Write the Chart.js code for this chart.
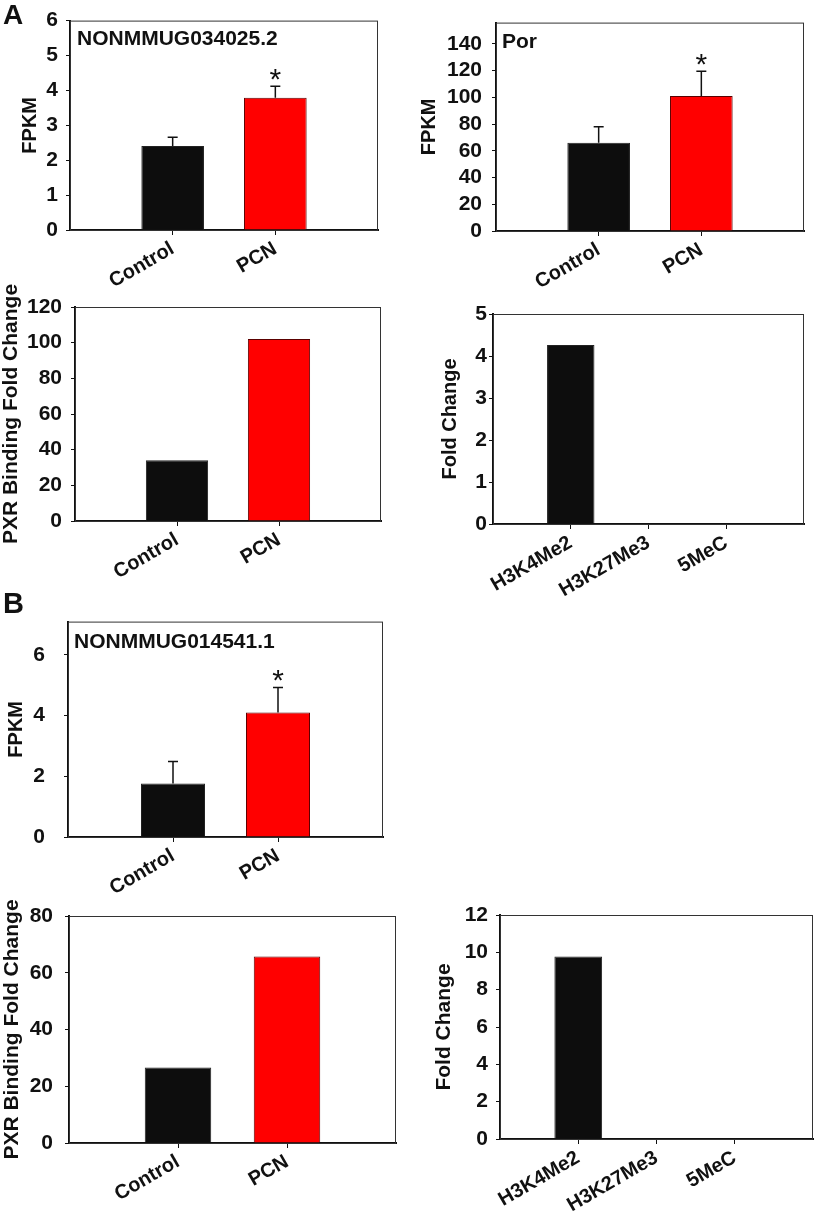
<!DOCTYPE html>
<html>
<head>
<meta charset="utf-8">
<title>PXR binding panels</title>
<script src="https://cdn.jsdelivr.net/npm/chart.js@4.4.1/dist/chart.umd.min.js"></script>
<style>
  body { margin: 0; background: #fff; }
  #fig { position: relative; width: 827px; height: 1214px; overflow: hidden; }
  #fig canvas { position: absolute; }
  .letter { position: absolute; line-height: 1; font-weight: bold; font-family: "Liberation Sans", Arial, sans-serif; color: #111; }
</style>
</head>
<body>
<div id="fig">
  <canvas id="c1" width="400" height="290" style="left:0px; top:0px"></canvas>
  <canvas id="c2" width="427" height="290" style="left:400px; top:0px"></canvas>
  <canvas id="c3" width="400" height="330" style="left:0px; top:260px"></canvas>
  <canvas id="c4" width="427" height="310" style="left:400px; top:290px"></canvas>
  <canvas id="c5" width="400" height="310" style="left:0px; top:590px"></canvas>
  <canvas id="c6" width="410" height="334" style="left:0px; top:880px"></canvas>
  <canvas id="c7" width="417" height="334" style="left:410px; top:880px"></canvas>
  <div class="letter" style="left:3px; top:1px; font-size:28px">A</div>
  <div class="letter" style="left:3px; top:589px; font-size:29px">B</div>
</div>
<script>
// values
const groups = ['Control', 'PCN'];
const marks = ['H3K4Me2', 'H3K27Me3', '5MeC'];
const starred = [false, true];

const fpkmA = [2.41, 3.79];
const fpkmAErr = [0.25, 0.33];
const porFpkm = [66, 101];
const porErr = [12, 18.5];
const pxrA = [34, 102];
const foldA = [4.26, 0, 0];

const fpkmB = [1.76, 4.10];
const fpkmBErr = [0.73, 0.83];
const pxrB = [26.6, 65.7];
const foldB = [9.78, 0, 0];

const groupColors = ['#0d0d0d', '#ff0000'];
const groupBorders = ['#222', '#5a0000'];
const markColors = ['#0d0d0d', '#0d0d0d', '#0d0d0d'];
const markBorders = ['#222', '#222', '#222'];

// y tick labels
const ticksFpkmA = [0, 1, 2, 3, 4, 5, 6];
const ticksPor = [0, 20, 40, 60, 80, 100, 120, 140];
const ticksPxrA = [0, 20, 40, 60, 80, 100, 120];
const ticksFoldA = [0, 1, 2, 3, 4, 5];
const ticksFpkmB = [0, 2, 4, 6];
const ticksPxrB = [0, 20, 40, 60, 80];
const ticksFoldB = [0, 2, 4, 6, 8, 10, 12];

const FONT = '"Liberation Sans", Arial, Helvetica, sans-serif';
const ink = '#111';
Chart.defaults.font.family = FONT;
Chart.defaults.font.weight = 'bold';
Chart.defaults.color = ink;
Chart.defaults.animation = false;

// empty slots at both ends so the bars sit where SigmaPlot put them
const pad = arr => [null, ...arr, null];

// box round the plot, error bars, asterisks and the gene name
const extras = {
    id: 'extras',
    afterDatasetsDraw(chart, args, opts) {
        const {ctx, chartArea: a} = chart;
        const ds = chart.data.datasets[0];
        const meta = chart.getDatasetMeta(0);
        const y = chart.scales.y;
        ctx.save();
        ctx.strokeStyle = '#333';
        ctx.lineWidth = 1;
        ctx.strokeRect(a.left + 0.5, a.top + 0.5, a.width - 1, a.height);

        if (ds.errors) {
            ds.data.forEach((v, i) => {
                if (v == null || ds.errors[i] == null) return;
                const x = meta.data[i].x;
                const y0 = y.getPixelForValue(v);
                const y1 = y.getPixelForValue(v + ds.errors[i]);
                ctx.strokeStyle = ink;
                ctx.lineWidth = 1.5;
                ctx.beginPath();
                ctx.moveTo(x, y0);
                ctx.lineTo(x, y1);
                ctx.moveTo(x - 5, y1);
                ctx.lineTo(x + 5, y1);
                ctx.stroke();
                if (ds.stars && ds.stars[i]) {
                    ctx.font = '30px ' + FONT;
                    ctx.fillStyle = ink;
                    ctx.textAlign = 'center';
                    ctx.textBaseline = 'alphabetic';
                    ctx.fillText('*', x, y1 + 3);
                }
            });
        }

        if (opts.text) {
            ctx.font = 'bold 21px ' + FONT;
            ctx.fillStyle = ink;
            ctx.textAlign = 'left';
            ctx.textBaseline = 'alphabetic';
            ctx.fillText(opts.text, a.left + opts.dx, a.top + opts.dy);
        }
        ctx.restore();
    }
};
Chart.register(extras);

function makePanel(id, p) {
    const ctx = document.getElementById(id).getContext('2d');
    return new Chart(ctx, {
        type: 'bar',
        data: {
            labels: pad(p.labels).map(l => l || ''),
            datasets: [{
                data: pad(p.values),
                errors: p.errors ? pad(p.errors) : null,
                stars: p.errors ? pad(starred) : null,
                backgroundColor: pad(p.colors),
                borderColor: pad(p.borders),
                borderWidth: 1,
                barPercentage: 0.61,
                categoryPercentage: 1
            }]
        },
        options: {
            responsive: false,
            layout: {
                autoPadding: false,
                padding: {top: p.padTop, right: p.padRight, left: 0, bottom: 0}
            },
            plugins: {
                legend: {display: false},
                tooltip: {enabled: false},
                extras: {text: p.tag, dx: p.tagDx || 6, dy: p.tagDy || 25}
            },
            scales: {
                x: {
                    offset: false,
                    afterFit: s => { s.height = p.xHeight; },
                    grid: {
                        display: true,
                        offset: false,
                        drawOnChartArea: false,
                        drawTicks: true,
                        tickLength: 5,
                        tickColor: c => (c.tick && c.tick.label) ? ink : 'rgba(0,0,0,0)'
                    },
                    border: {display: true, color: ink, width: 2},
                    ticks: {autoSkip: false, minRotation: 30, maxRotation: 30, padding: 2, font: {size: 20}}
                },
                y: {
                    min: 0,
                    max: p.yMax,
                    afterBuildTicks: s => { s.ticks = p.yTicks.map(v => ({value: v})); },
                    afterFit: s => { s.width = p.yWidth; },
                    grid: {display: true, drawOnChartArea: false, drawTicks: true, tickLength: 4, tickColor: ink},
                    border: {display: true, color: ink, width: 2},
                    ticks: {padding: p.tickPad, font: {size: 21}},
                    title: {
                        display: true,
                        text: p.yTitle,
                        font: {size: p.titleSize || 20, lineHeight: 1.1},
                        padding: {top: p.titlePad, bottom: 0}
                    }
                }
            }
        }
    });
}

// panel A
makePanel('c1', {
    labels: groups, values: fpkmA, errors: fpkmAErr, colors: groupColors, borders: groupBorders,
    yMax: 6, yTicks: ticksFpkmA, yTitle: 'FPKM', tag: 'NONMMUG034025.2', tagDx: 7, tagDy: 24,
    padTop: 16, padRight: 22, yWidth: 70, xHeight: 60, titlePad: 19, tickPad: 8
});
makePanel('c2', {
    labels: groups, values: porFpkm, errors: porErr, colors: groupColors, borders: groupBorders,
    yMax: 156, yTicks: ticksPor, yTitle: 'FPKM', tag: 'Por', tagDx: 6, tagDy: 25,
    padTop: 15, padRight: 23, yWidth: 96, xHeight: 59, titlePad: 18, tickPad: 10
});
makePanel('c3', {
    labels: groups, values: pxrA, colors: groupColors, borders: groupBorders,
    yMax: 120, yTicks: ticksPxrA, yTitle: 'PXR Binding Fold Change', titleSize: 21,
    padTop: 47, padRight: 19, yWidth: 75, xHeight: 69, titlePad: 0, tickPad: 9
});
makePanel('c4', {
    labels: marks, values: foldA, colors: markColors, borders: markBorders,
    yMax: 5, yTicks: ticksFoldA, yTitle: 'Fold Change',
    padTop: 24, padRight: 23, yWidth: 93, xHeight: 76, titlePad: 39, tickPad: 2
});

// panel B
makePanel('c5', {
    labels: groups, values: fpkmB, errors: fpkmBErr, colors: groupColors, borders: groupBorders,
    yMax: 7.1, yTicks: ticksFpkmB, yTitle: 'FPKM', tag: 'NONMMUG014541.1', tagDx: 6, tagDy: 26,
    padTop: 25, padRight: 17, yWidth: 68, xHeight: 63, titlePad: 5.5, tickPad: 19
});
makePanel('c6', {
    labels: groups, values: pxrB, colors: groupColors, borders: groupBorders,
    yMax: 80, yTicks: ticksPxrB, yTitle: 'PXR Binding Fold Change', titleSize: 21,
    padTop: 36, padRight: 14, yWidth: 69, xHeight: 71, titlePad: 1, tickPad: 12
});
makePanel('c7', {
    labels: marks, values: foldB, colors: markColors, borders: markBorders,
    yMax: 12, yTicks: ticksFoldB, yTitle: 'Fold Change', titleSize: 21,
    padTop: 35, padRight: 4, yWidth: 90, xHeight: 75, titlePad: 23, tickPad: 8
});
</script>
</body>
</html>
